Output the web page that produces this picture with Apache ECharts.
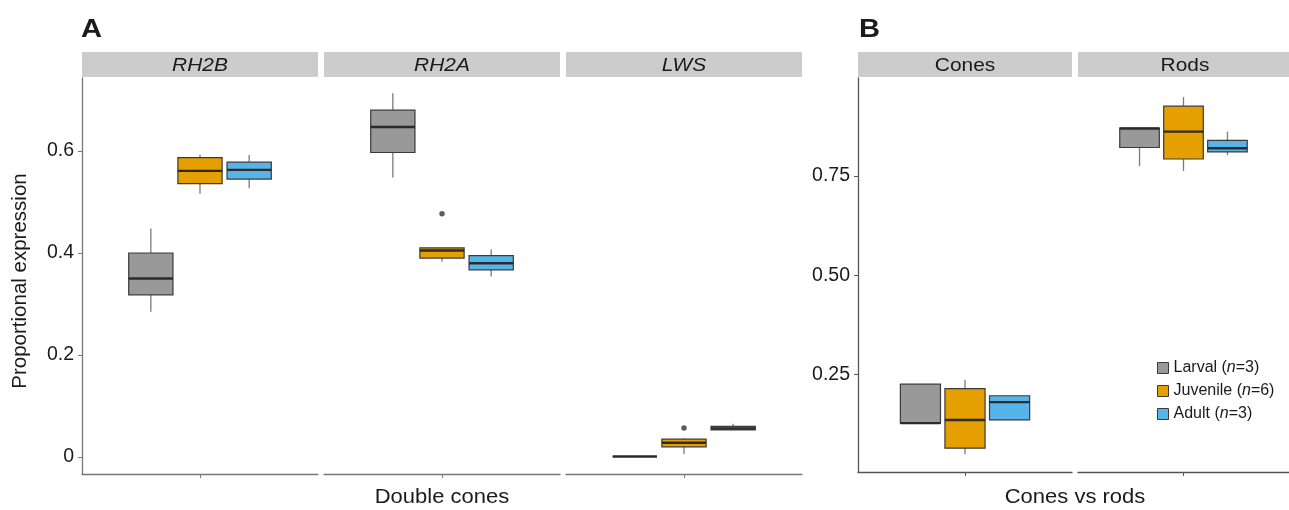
<!DOCTYPE html>
<html>
<head>
<meta charset="utf-8">
<script src="https://cdn.jsdelivr.net/npm/echarts@6.0.0/dist/echarts.min.js"></script>
<style>
html,body{margin:0;padding:0;background:#fff;}
#chart{width:1289px;height:510px;}
</style>
</head>
<body>
<div id="chart"></div>
<script>
// ---------------- DATA ----------------
const groups = ['Larval', 'Juvenile', 'Adult'];
const groupCounts = [3, 6, 3];
const groupColors = ['#999999', '#E69F00', '#56B4E9'];

const facetsA = ['RH2B', 'RH2A', 'LWS'];
const facetsB = ['Cones', 'Rods'];

// [min, Q1, median, Q3, max] per facet
const larvalA   = [[0.285, 0.318, 0.350, 0.400, 0.448], [0.548, 0.597, 0.647, 0.680, 0.713], [0.001, 0.001, 0.001, 0.001, 0.001]];
const juvenileA = [[0.516, 0.536, 0.561, 0.587, 0.593], [0.383, 0.390, 0.405, 0.410, 0.410], [0.006, 0.020, 0.028, 0.035, 0.037]];
const adultA    = [[0.527, 0.545, 0.563, 0.578, 0.592], [0.354, 0.367, 0.380, 0.395, 0.407], [0.053, 0.053, 0.056, 0.060, 0.065]];

const larvalB   = [[0.128, 0.128, 0.128, 0.226, 0.226], [0.775, 0.822, 0.870, 0.871, 0.871]];
const juvenileB = [[0.050, 0.065, 0.136, 0.215, 0.237], [0.763, 0.793, 0.862, 0.926, 0.949]];
const adultB    = [[0.136, 0.136, 0.181, 0.197, 0.197], [0.803, 0.811, 0.820, 0.840, 0.862]];

const outliersA = [
  { facet: 'RH2A', group: 'Juvenile', value: 0.477 },
  { facet: 'LWS',  group: 'Juvenile', value: 0.057 }
];

const ticksA = [0, 0.2, 0.4, 0.6];
const ticksB = [0.25, 0.50, 0.75];

const xTitleA = 'Double cones';
const xTitleB = 'Cones vs rods';
const yTitle = 'Proportional expression';

// ---------------- LAYOUT ----------------
const FONT = 'Liberation Sans, Arial, sans-serif';
const SX = 1.1; // horizontal text stretch seen in the reference
const stripTop = 52, stripH = 25;
const gridsA = facetsA.map((f, i) => ({ left: 82 + i * 242, top: 78, width: 236, height: 396 }));
const gridsB = facetsB.map((f, i) => ({ left: 858 + i * 220, top: 78, width: 214, height: 394 }));
const yRangeA = [-0.0333, 0.7431];
const yRangeB = [0.005, 0.997];

const statsA = [larvalA, juvenileA, adultA];
const statsB = [larvalB, juvenileB, adultB];

// ggplot-like dodge: one discrete position at 1, boxes dodged by 0.25, width 0.225
const DODGE = 0.25, BOXW = 0.225;
const dodgeX = g => 1 + (g - 1) * DODGE;

function renderBox(params, api) {
  const x = api.value(0);
  const vmin = api.value(1), q1 = api.value(2), med = api.value(3), q3 = api.value(4), vmax = api.value(5);
  const half = api.size([BOXW, 0])[0] / 2;
  const pMin = api.coord([x, vmin]), pQ1 = api.coord([x, q1]), pMed = api.coord([x, med]);
  const pQ3 = api.coord([x, q3]), pMax = api.coord([x, vmax]);
  const fill = api.visual('color');
  const wStyle = { stroke: '#7a7a7a', lineWidth: 1.3 };
  return {
    type: 'group',
    children: [
      { type: 'line', shape: { x1: pMax[0], y1: pMax[1], x2: pQ3[0], y2: pQ3[1] }, style: wStyle },
      { type: 'line', shape: { x1: pQ1[0], y1: pQ1[1], x2: pMin[0], y2: pMin[1] }, style: wStyle },
      { type: 'rect', shape: { x: pQ3[0] - half, y: pQ3[1], width: half * 2, height: pQ1[1] - pQ3[1] },
        style: { fill: fill, stroke: '#3a3a3a', lineWidth: 1.2 } },
      { type: 'line', shape: { x1: pMed[0] - half, y1: pMed[1], x2: pMed[0] + half, y2: pMed[1] },
        style: { stroke: '#2b2b2b', lineWidth: 2.4 } }
    ]
  };
}

const grid = [], xAxis = [], yAxis = [], series = [], graphic = [];

function addFacet(idx, g, facetName, italic, range, ticks, fmt, showY, stats, facetIdx, axisColor) {
  grid.push(g);
  xAxis.push({
    type: 'value', gridIndex: idx, min: 0.4, max: 1.6,
    axisLine: { show: true, onZero: false, lineStyle: { color: axisColor, width: 1.3 } },
    axisTick: { show: true, length: 4, customValues: [1], lineStyle: { color: axisColor } },
    axisLabel: { show: false },
    splitLine: { show: false }
  });
  yAxis.push({
    type: 'value', gridIndex: idx, min: range[0], max: range[1],
    show: showY,
    axisLine: { show: showY, onZero: false, lineStyle: { color: axisColor, width: 1.3 } },
    axisTick: { show: showY, length: 4, customValues: ticks, lineStyle: { color: axisColor } },
    axisLabel: { show: showY, customValues: ticks, formatter: fmt, margin: 8,
      fontFamily: FONT, fontSize: 19.5, color: '#1a1a1a' },
    splitLine: { show: false }
  });
  groups.forEach((gname, gi) => {
    series.push({
      type: 'custom', name: gname, xAxisIndex: idx, yAxisIndex: idx,
      itemStyle: { color: groupColors[gi] },
      encode: { x: 0, y: [1, 2, 3, 4, 5] },
      data: [[dodgeX(gi)].concat(stats[gi][facetIdx])],
      renderItem: renderBox,
      silent: true
    });
  });
  graphic.push({
    type: 'rect', left: g.left, top: stripTop, silent: true,
    shape: { width: g.width, height: stripH }, style: { fill: '#CCCCCC' }
  });
  graphic.push({
    type: 'text', silent: true, scaleX: SX,
    x: g.left + g.width / 2, y: stripTop + stripH / 2 + 1,
    style: { text: facetName, fontFamily: FONT, fontSize: 19, fontStyle: italic ? 'italic' : 'normal',
      fill: '#1a1a1a', align: 'center', verticalAlign: 'middle' }
  });
}

const fmtA = v => (v === 0 ? '0' : v.toFixed(1));
const fmtB = v => v.toFixed(2);

gridsA.forEach((g, i) => addFacet(grid.length, g, facetsA[i], true, yRangeA, ticksA, fmtA, i === 0, statsA, i, '#777777'));
gridsB.forEach((g, i) => addFacet(grid.length, g, facetsB[i], false, yRangeB, ticksB, fmtB, i === 0, statsB, i, '#555555'));

// outliers
outliersA.forEach(o => {
  const fi = facetsA.indexOf(o.facet);
  const gi = groups.indexOf(o.group);
  series.push({
    type: 'scatter', xAxisIndex: fi, yAxisIndex: fi, silent: true,
    symbolSize: 5.5, itemStyle: { color: '#333333' },
    data: [[dodgeX(gi), o.value]]
  });
});

// panel letters & axis titles
const centerA = (gridsA[0].left + gridsA[2].left + gridsA[2].width) / 2;
const centerB = (gridsB[0].left + gridsB[1].left + gridsB[1].width) / 2;
graphic.push({ type: 'text', x: 81, y: 17, scaleX: 1.12, silent: true,
  style: { text: 'A', fontFamily: FONT, fontSize: 26, fontWeight: 'bold', fill: '#1a1a1a' } });
graphic.push({ type: 'text', x: 859, y: 17, scaleX: 1.12, silent: true,
  style: { text: 'B', fontFamily: FONT, fontSize: 26, fontWeight: 'bold', fill: '#1a1a1a' } });
graphic.push({ type: 'text', x: centerA, y: 497, scaleX: SX, silent: true,
  style: { text: xTitleA, fontFamily: FONT, fontSize: 20, fill: '#1a1a1a', align: 'center', verticalAlign: 'middle' } });
graphic.push({ type: 'text', x: centerB, y: 497, scaleX: SX, silent: true,
  style: { text: xTitleB, fontFamily: FONT, fontSize: 20, fill: '#1a1a1a', align: 'center', verticalAlign: 'middle' } });
graphic.push({ type: 'text', x: 20, y: 281, rotation: Math.PI / 2, silent: true,
  style: { text: yTitle, fontFamily: FONT, fontSize: 20.5, fill: '#1a1a1a', align: 'center', verticalAlign: 'middle' } });

const chart = echarts.init(document.getElementById('chart'), null, { renderer: 'canvas' });
chart.setOption({
  animation: false,
  backgroundColor: '#ffffff',
  grid: grid,
  xAxis: xAxis,
  yAxis: yAxis,
  legend: {
    orient: 'vertical', left: 1152, top: 355,
    itemWidth: 11, itemHeight: 11, itemGap: 7, icon: 'rect',
    selectedMode: false,
    data: groups.map((g, i) => ({ name: g, itemStyle: { color: groupColors[i], borderColor: '#3a3a3a', borderWidth: 1 } })),
    formatter: name => name + ' ({i|n}=' + groupCounts[groups.indexOf(name)] + ')',
    textStyle: { fontFamily: FONT, fontSize: 16, color: '#1a1a1a',
      rich: { i: { fontFamily: FONT, fontSize: 16, fontStyle: 'italic', color: '#1a1a1a' } } }
  },
  graphic: graphic,
  series: series
});
</script>
</body>
</html>
